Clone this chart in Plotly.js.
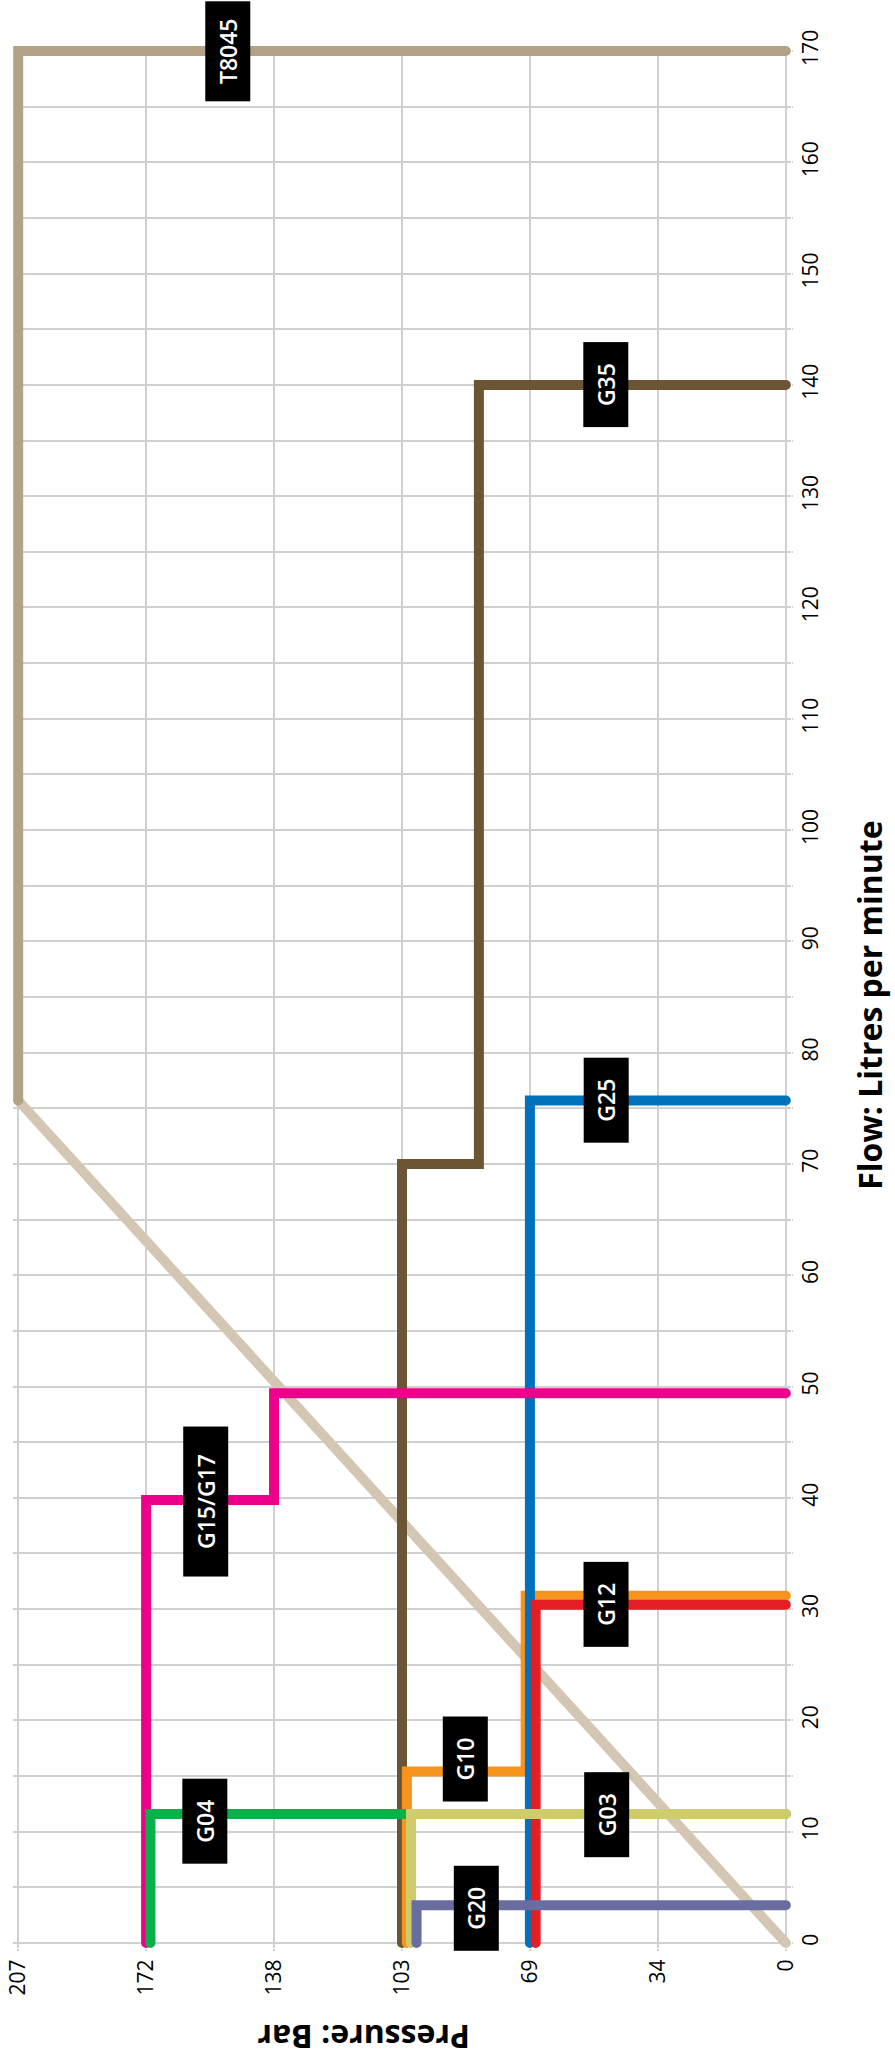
<!DOCTYPE html>
<html>
<head>
<meta charset="utf-8">
<script src="https://cdn.plot.ly/plotly-3.0.1.min.js"></script>
<style>
  html, body { margin: 0; padding: 0; background: #fff; }
  #chart { width: 895px; height: 2067px; }
  #chart .scatterlayer .js-line { stroke-linecap: round; }
</style>
</head>
<body>
<div id="chart"></div>
<script>
// ---- Data (flow in litres per minute, pressure in bar) ----
const pressureTickVals = [0, 34.47, 68.95, 103.42, 137.9, 172.37, 206.84];
const pressureTickText = ['0', '34', '69', '103', '138', '172', '207'];
const flowTickVals = [0, 5, 10, 15, 20, 25, 30, 35, 40, 45, 50, 55, 60, 65, 70, 75, 80, 85, 90, 95, 100, 105, 110, 115, 120, 125, 130, 135, 140, 145, 150, 155, 160, 165, 170];
const flowTickText = ['0', '', '10', '', '20', '', '30', '', '40', '', '50', '', '60', '', '70', '', '80', '', '90', '', '100', '', '110', '', '120', '', '130', '', '140', '', '150', '', '160', '', '170'];

const t8045DiagFlow = [0, 75.7];
const t8045DiagPressure = [0, 206.84];
const t8045Flow = [75.7, 170, 170];
const t8045Pressure = [206.84, 206.84, 0];
const g35Flow = [0, 70, 70, 140, 140];
const g35Pressure = [103.42, 103.42, 82.7, 82.7, 0];
const g10Flow = [0, 15.4, 15.4, 31.2, 31.2];
const g10Pressure = [102.1, 102.1, 70.1, 70.1, 0];
const g25Flow = [0, 75.7, 75.7];
const g25Pressure = [68.95, 68.95, 0];
const g12Flow = [0, 30.4, 30.4];
const g12Pressure = [67.4, 67.4, 0];
const g15Flow = [0, 39.8, 39.8, 49.4, 49.4];
const g15Pressure = [172.37, 172.37, 137.9, 137.9, 0];
const g04Flow = [0, 11.6, 11.6];
const g04Pressure = [171.2, 171.2, 0];
const g03Flow = [0, 11.6, 11.6];
const g03Pressure = [101.0, 101.0, 0];
const g20Flow = [0, 3.4, 3.4];
const g20Pressure = [99.5, 99.5, 0];

const labelNames = ['T8045', 'G35', 'G25', 'G12', 'G03', 'G10', 'G20', 'G04', 'G15/G17'];
const labelPressure = [150.5, 48.4, 48.4, 48.4, 48.4, 86.4, 83.4, 156.5, 156.4];
const labelFlow = [170, 140, 75.7, 30.4, 11.5, 16.5, 3.1, 10.9, 39.7];

// ---- Styles ----
const LW = 10;
function series(name, flow, pressure, color) {
  return { type: 'scatter', mode: 'lines', name: name, x: pressure, y: flow,
           line: { color: color, width: LW, shape: 'linear' }, hoverinfo: 'skip' };
}
const traces = [
  series('T8045 ramp', t8045DiagFlow, t8045DiagPressure, '#d3c7b4'),
  series('T8045', t8045Flow, t8045Pressure, '#b4a286'),
  series('G35', g35Flow, g35Pressure, '#6b5535'),
  series('G10', g10Flow, g10Pressure, '#f7941e'),
  series('G25', g25Flow, g25Pressure, '#0071bc'),
  series('G12', g12Flow, g12Pressure, '#e31e25'),
  series('G15/G17', g15Flow, g15Pressure, '#ec008c'),
  series('G04', g04Flow, g04Pressure, '#0cb04b'),
  series('G03', g03Flow, g03Pressure, '#cfcd69'),
  series('G20', g20Flow, g20Pressure, '#6a6da0')
];

const boxLen = { 'T8045': 100, 'G15/G17': 150 };
const annotations = labelNames.map((n, i) => ({
  x: labelPressure[i], y: labelFlow[i], xref: 'x', yref: 'y',
  text: n, showarrow: false, textangle: -90,
  bgcolor: '#000000', borderwidth: 0, borderpad: 0,
  width: boxLen[n] || 85, height: 45,
  font: { family: 'Open Sans, sans-serif', size: 23, weight: 600, color: '#ffffff' },
  xanchor: 'center', yanchor: 'middle'
}));

// Plot frame: pressure 206.84 at x=18, 0 at x=786; flow 170 at y=51, 0 at y=1943.
// Axis ranges are padded by half a line width so that edge lines are not clipped.
const kx = 768 / 206.84, ky = 1892 / 170;
const padP = 1.4, padF = 0.45;
const L = 18 - padP * kx, R = 895 - (786 + padP * kx);
const T = 51 - padF * ky, B = 2067 - (1943 + padF * ky);
const plotW = 895 - L - R, plotH = 2067 - T - B;
const px2paperX = function (px) { return (px - L) / plotW; };
const px2paperY = function (py) { return ((2067 - B) - py) / plotH; };

annotations.push({
  xref: 'paper', yref: 'paper', x: px2paperX(364), y: px2paperY(2037),
  text: '<b>Pressure: Bar</b>', showarrow: false, textangle: 180,
  xanchor: 'center', yanchor: 'middle',
  font: { family: 'Open Sans, sans-serif', size: 32, color: '#000000' }
});
annotations.push({
  xref: 'paper', yref: 'paper', x: px2paperX(870), y: px2paperY(1005),
  text: '<b>Flow: Litres per minute</b>', showarrow: false, textangle: -90,
  xanchor: 'center', yanchor: 'middle',
  font: { family: 'Open Sans, sans-serif', size: 32, color: '#000000' }
});

const layout = {
  width: 895, height: 2067,
  margin: { l: L, r: R, t: T, b: B, pad: 0 },
  paper_bgcolor: '#ffffff', plot_bgcolor: '#ffffff',
  showlegend: false,
  font: { family: 'Open Sans, sans-serif', size: 21, color: '#000000' },
  xaxis: {
    range: [206.84 + padP, -padP], tickmode: 'array', tickvals: pressureTickVals, ticktext: pressureTickText,
    tickangle: -90, showgrid: true, gridcolor: '#d0d0d0', gridwidth: 2, zeroline: false,
    showline: false, ticks: 'outside', ticklen: 2, tickwidth: 2, tickcolor: '#d0d0d0',
    tickfont: { size: 21, color: '#000' }, fixedrange: true
  },
  yaxis: {
    range: [-padF, 170 + padF], side: 'right', tickmode: 'array', tickvals: flowTickVals, ticktext: flowTickText,
    tickangle: -90, showgrid: true, gridcolor: '#d0d0d0', gridwidth: 2, zeroline: false,
    showline: false, ticks: 'outside', ticklen: 1, tickwidth: 2, tickcolor: '#d0d0d0',
    tickfont: { size: 21, color: '#000' }, fixedrange: true
  },
  annotations: annotations
};

Plotly.newPlot('chart', traces, layout, { displayModeBar: false, staticPlot: true });
</script>
</body>
</html>
